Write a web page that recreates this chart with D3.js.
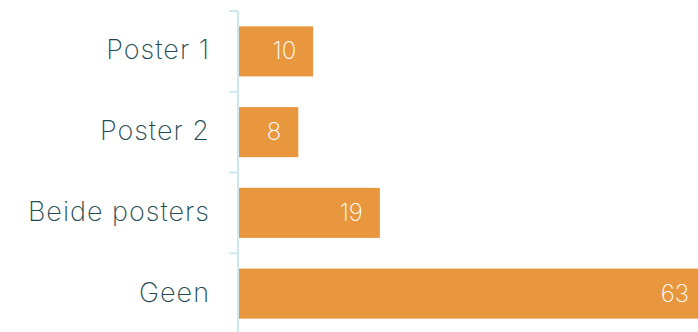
<!DOCTYPE html>
<html><head><meta charset="utf-8">
<script src="https://cdn.jsdelivr.net/npm/d3@7/dist/d3.min.js"></script>
<style>html,body{margin:0;padding:0;background:#fff;overflow:hidden}</style>
</head><body>
<svg id="chart" width="698" height="332"></svg>
<script>
const categories = ["Poster 1", "Poster 2", "Beide posters", "Geen"];
const values = [10, 8, 19, 63];

const svg = d3.select("#chart");
const font = "Inter, 'Open Sans', sans-serif";
const y = d3.scaleBand().domain(categories).range([11, 334]).paddingInner(0.38).paddingOuter(0.19);
const x = d3.scaleLinear().domain([0, 63]).range([239, 706]);
const axisX = 238;

// bars
svg.selectAll("rect.bar").data(categories).enter().append("rect")
  .attr("class", "bar")
  .attr("x", x(0))
  .attr("y", d => y(d))
  .attr("width", (d, i) => x(values[i]) - x(0))
  .attr("height", y.bandwidth())
  .attr("fill", "#E8973E");

// axis line
const axisCol = "#cde8ee";
svg.append("line").attr("x1", axisX).attr("x2", axisX).attr("y1", y.range()[0]).attr("y2", 332)
  .attr("stroke", axisCol).attr("stroke-width", 2);
// ticks at band boundaries
const bounds = categories.map(d => y(d) - y.step() * y.paddingInner() / 2);
svg.selectAll("line.tick").data(bounds).enter().append("line")
  .attr("x1", axisX - 9).attr("x2", axisX)
  .attr("y1", d => d).attr("y2", d => d)
  .attr("stroke", axisCol).attr("stroke-width", 2);

// category labels
svg.selectAll("text.cat").data(categories).enter().append("text")
  .attr("x", 210)
  .attr("y", d => y(d) + y.bandwidth() / 2)
  .attr("dy", "0.3em")
  .attr("text-anchor", "end")
  .attr("font-family", font)
  .attr("font-weight", 200)
  .attr("font-size", 27)
  .attr("letter-spacing", 1)
  .attr("fill", "#1e4b53")
  .text(d => d);

// value labels
svg.selectAll("text.val").data(categories).enter().append("text")
  .attr("x", (d, i) => x(values[i]) - 17)
  .attr("y", d => y(d) + y.bandwidth() / 2)
  .attr("dy", "0.33em")
  .attr("text-anchor", "end")
  .attr("font-family", font)
  .attr("font-weight", 200)
  .attr("font-size", 24)
  .attr("fill", "#ffffff")
  .text((d, i) => values[i]);
</script>
</body></html>
